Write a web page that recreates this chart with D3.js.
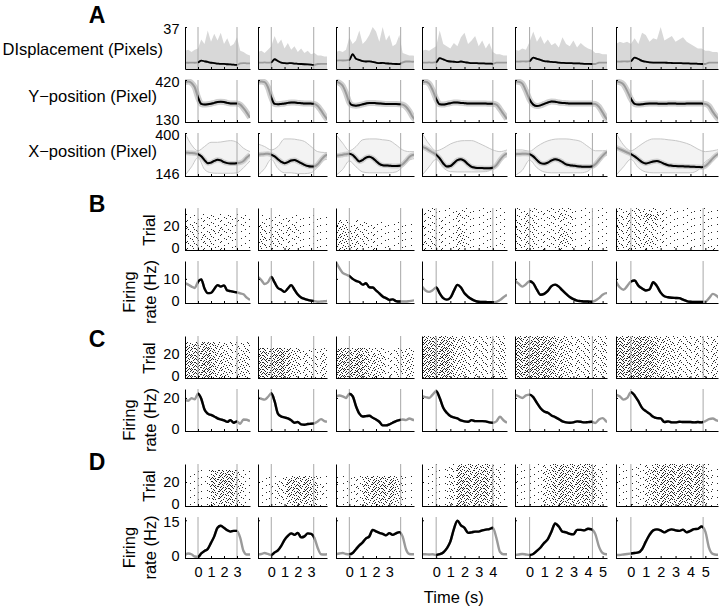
<!DOCTYPE html>
<html>
<head>
<meta charset="utf-8">
<script src="https://cdn.jsdelivr.net/npm/d3@7/dist/d3.min.js"></script>
<style>
html,body{margin:0;padding:0;background:#fff;}
svg text{font-family:"Liberation Sans",Arial,Helvetica,sans-serif;fill:#000;}
</style>
</head>
<body>
<svg id="fig" width="720" height="613"></svg>
<script>
// ================= DATA =================
const SAMPLE_STEP = 0.25;   // s between trace samples; first sample at t = -1 s
const ENV_STEP = 0.5;       // s between X-position envelope samples
const RASTER_BIN = 0.5;     // s per raster density bin
const RASTER_GROUP = 5;     // trials per raster density row

// trial durations (s) of the six columns, and their time tick labels
const durations = [3.0, 3.2, 3.85, 4.0, 4.3, 4.85];
const timeTicks = [[0,1,2,3],[0,1,2,3],[0,1,2,3],[0,1,2,3,4],[0,1,2,3,4,5],[0,1,2,3,4,5]];

// left tick labels (first column only)
const tickDisp = [37], tickY = [130, 420], tickX = [146, 400];
const tickTrial = [0, 20], tickRateB = [0, 10], tickRateC = [0, 20], tickRateD = [0, 15];

// A: displacement – upper envelope of single trials (light gray) and mean
const dispEnv = [
  [16,17,15,17,18,26,22,34,24,31,25,32,22,27,20,22,28,16,15,13,12],
  [15,16,14,17,20,29,22,26,18,23,17,20,15,18,14,16,13,14,12,12,11,11],
  [15,16,15,17,28,22,25,34,22,25,30,37,33,24,37,25,30,20,22,30,14,13,12,12,11],
  [16,17,16,18,20,34,22,20,18,23,20,28,32,22,25,29,20,25,18,23,15,13,13,12,12],
  [17,16,18,17,24,33,24,29,22,26,21,23,19,28,22,20,25,19,23,20,18,17,14,14,13,13,12],
  [22,24,23,24,22,27,22,32,30,24,27,26,37,25,27,29,24,26,28,24,22,20,18,18,16,16,15,15,14]
];
const dispMean = [
  [5.6,5.5,5.6,5.5,5.8,7.4,6.8,6.2,5.5,5.2,4.8,4.5,4.6,4.2,4.0,3.8,3.6,5.0,5.2,5.0,5.0],
  [5.7,5.6,5.8,5.6,5.8,8.6,7.0,5.6,5.2,5.0,5.2,4.8,4.6,4.4,4.2,4.0,3.8,3.6,4.4,4.6,4.6,4.5],
  [7.4,7.6,7.5,7.6,8.0,13.0,9.0,8.0,7.0,6.6,6.8,6.2,5.6,5.2,5.4,5.0,4.8,4.6,4.4,4.3,5.8,6.6,6.6,6.4,6.5],
  [5.7,5.6,5.8,5.6,6.0,9.5,8.5,7.2,6.6,6.4,6.0,6.6,6.0,5.6,5.2,5.2,5.0,5.0,4.8,4.8,4.6,5.6,5.7,5.7,5.6],
  [6.6,6.5,6.7,6.6,7.0,10.0,9.0,8.0,7.0,6.6,6.2,6.0,5.6,5.4,5.2,5.2,5.0,5.0,4.8,4.6,4.5,4.4,4.4,5.6,5.7,5.7,5.6],
  [6.6,6.5,6.7,6.6,7.0,10.0,8.8,7.2,6.4,5.8,5.7,5.7,5.6,5.6,5.4,5.3,5.2,5.2,5.0,5.0,4.8,4.8,4.6,4.4,4.4,5.6,5.7,5.7,5.6]
];
// A: Y-position mean
const yMean = [
  [405,410,400,370,300,255,250,252,256,262,268,270,268,262,258,258,258,250,225,195,160],
  [408,410,405,370,300,255,252,255,258,262,265,265,262,260,258,258,257,255,240,210,175,145],
  [408,400,380,330,265,245,243,246,252,258,262,262,260,258,256,255,255,254,254,253,250,235,205,165,140],
  [405,408,395,350,290,252,250,255,260,265,265,262,260,258,258,258,257,257,257,256,256,250,220,185,150],
  [410,408,395,345,285,250,240,245,255,265,272,270,265,262,260,258,258,258,258,258,258,257,255,235,195,155,135],
  [410,405,390,345,290,255,250,252,256,258,258,257,256,256,257,258,257,256,256,257,257,257,257,257,255,240,200,165,140]
];
// A: X-position mean and single-trial envelope (low / high)
const xMean = [
  [285,283,282,280,275,262,240,222,225,235,242,238,228,222,220,220,222,225,235,255,272],
  [272,274,276,278,272,262,245,230,222,228,238,240,232,222,212,205,202,203,215,240,262,272],
  [265,268,272,275,278,270,250,232,240,255,260,252,235,218,210,208,207,205,205,206,215,235,258,270,272],
  [320,310,298,285,272,250,220,202,205,222,240,245,235,215,200,195,193,193,192,192,195,210,240,265,280],
  [275,276,277,277,275,262,240,222,218,225,238,245,240,228,215,210,207,204,202,200,200,202,215,240,265,285,292],
  [315,305,295,285,275,262,245,228,220,225,232,234,228,218,210,207,205,204,203,202,201,200,199,198,205,225,250,270,282]
];
const xHi = [
  [400,330,295,320,345,345,350,355,345,310,290],
  [335,320,300,320,365,365,360,350,320,290,285,285],
  [390,340,295,320,360,365,365,360,355,330,300,290,290],
  [400,335,295,310,335,350,355,355,340,320,300,290,300],
  [300,300,292,320,345,360,365,365,360,350,320,295,295,300],
  [400,330,295,320,350,365,365,360,355,345,330,305,290,295,305]
];
const xLo = [
  [150,200,255,185,165,162,162,162,165,195,235],
  [150,190,245,190,165,165,160,160,165,200,240,250],
  [150,185,235,200,170,165,165,165,165,170,200,240,250],
  [150,200,245,195,172,170,170,170,170,172,190,240,260],
  [150,180,240,195,170,165,165,165,165,165,175,220,260,270],
  [150,200,245,195,170,165,165,165,165,165,165,180,230,255,265]
];
// B, C, D: mean firing rates (Hz)
const rateB = [
  [8.2,7.6,6.8,6.2,8.8,9.8,6.0,4.1,4.2,5.8,7.4,6.8,7.3,5.2,4.9,4.6,4.4,4.0,3.6,2.2,1.3],
  [10.8,9.5,7.9,8.6,10.8,8.5,6.2,5.5,4.6,6.0,7.4,5.5,3.5,2.3,1.7,1.3,1.0,0.8,0.5,0.6,0.7,0.9],
  [17.0,14.5,12.5,11.8,11.2,10.0,9.2,8.7,7.6,8.2,6.5,6.4,5.2,4.0,2.7,2.0,1.3,1.5,0.8,0.6,0.6,0.6,0.8,1.0,1.2],
  [6.8,5.2,4.6,5.3,6.4,4.0,2.0,1.4,2.2,5.0,7.5,6.4,4.0,2.6,1.6,0.9,0.5,0.4,0.4,0.3,0.3,0.5,1.2,2.4,3.4],
  [9.3,8.0,6.8,7.8,9.0,8.2,5.5,3.4,3.8,5.0,7.0,7.6,6.8,5.2,3.8,2.5,1.6,1.0,0.8,0.6,0.6,0.5,1.0,2.0,3.4,4.1,4.0],
  [8.9,6.5,5.5,7.0,8.9,9.3,7.2,6.0,5.2,5.6,8.6,7.0,4.3,2.8,2.4,2.2,2.1,2.0,1.4,0.8,0.5,0.4,0.4,0.4,0.6,2.0,3.8,3.0,1.5]
];
const rateC = [
  [18.6,18.3,19.8,19.2,22.5,19.5,13.0,10.5,9.7,8.8,7.6,7.0,6.4,5.5,6.6,5.0,5.8,4.4,7.0,6.8,6.0],
  [20.2,19.5,19.0,20.6,22.8,18.0,10.5,8.8,8.2,7.6,6.5,5.0,5.4,4.0,3.8,4.2,4.4,4.6,5.8,7.2,6.0,5.6],
  [21.0,21.5,21.0,20.0,22.5,21.0,15.0,10.5,8.8,9.0,9.2,8.0,7.0,5.6,3.4,3.4,4.0,5.0,6.0,6.6,7.0,6.6,7.6,6.8,6.4],
  [21.0,20.5,20.0,22.0,24.0,20.0,14.0,11.0,9.0,8.2,7.6,6.4,5.8,5.6,6.6,6.0,6.0,6.0,5.8,5.2,5.0,5.8,8.6,6.5,5.0],
  [22.0,21.0,20.0,21.5,22.0,20.5,17.0,13.8,11.8,11.0,9.4,8.4,7.2,5.8,5.2,5.0,5.2,5.8,5.6,5.2,5.4,5.6,4.8,7.0,7.8,5.8,5.0],
  [22.0,21.0,19.0,20.0,23.5,21.5,18.0,14.0,12.0,10.5,8.6,7.8,7.6,5.4,5.8,5.2,5.2,5.6,5.4,5.4,5.4,5.2,5.4,5.2,6.0,7.2,7.6,6.4,6.0]
];
const rateD = [
  [1.2,1.8,1.5,0.6,0.4,1.8,2.8,3.6,6.0,8.6,12.0,12.8,12.0,11.0,10.5,10.8,10.8,8.0,2.8,1.4,1.4],
  [1.5,1.6,2.0,1.6,1.2,2.2,3.0,4.8,7.2,8.8,9.8,9.2,10.0,8.2,8.6,9.8,9.6,8.0,4.0,1.5,1.4,1.5],
  [1.5,1.8,2.0,1.6,1.5,2.0,3.5,5.0,6.2,7.8,8.6,11.2,10.6,10.0,9.6,9.0,9.9,9.2,9.8,10.3,8.5,3.5,1.6,1.5,1.5],
  [1.5,1.5,1.4,1.5,1.2,1.5,2.2,3.8,6.5,11.5,14.8,13.0,12.0,10.0,10.2,10.5,10.5,11.0,11.3,11.5,12.0,8.0,2.5,1.5,1.5],
  [1.2,1.4,1.6,1.4,1.2,1.6,2.8,4.2,6.0,7.5,10.5,13.7,12.5,10.5,10.2,9.6,9.4,11.2,11.2,11.0,11.6,11.4,9.5,4.5,2.0,1.5,1.4],
  [1.2,1.2,1.4,1.6,1.8,2.0,2.2,3.5,6.5,9.2,11.0,11.4,11.0,10.2,11.0,11.4,11.0,10.8,11.3,10.2,10.8,11.5,11.6,12.5,10.5,4.0,1.6,1.3,1.3]
];
// B, C, D rasters: spike density (0-9) per 5-trial group (bottom to top) and 0.5-s bin
const rasterB = [
  ["3322221111","3333222111","3333322211","3322332211","2222222221","2122222221","0000000000"],
  ["33322111111","43332211111","33332221111","33223321111","22222211111","11111111111","00000000000"],
  ["443322111111","544332111111","544332111111","443322111111","332221111111","000000000000","000000000000"],
  ["332113211112","332124211111","222124211111","222113111111","222112111111","221113211111","221112111111"],
  ["3332223211111","3332234311111","3332234311111","3331223211111","3331222211111","2332234311111","2221223211111"],
  ["33333211111112","33344321111111","33333321111111","33333221111111","33333321111111","33347521111111","22332221111111"]
];
const rasterC = [
  ["8889654344","8899654344","8899654344","8889654344","7789543334","6678543333","0000000000"],
  ["88896433334","88896433334","88996433334","88896433334","77786432233","00000000000","00000000000"],
  ["888965432334","889965432344","889965432344","888965432344","777854322333","000000000000","000000000000"],
  ["888964333334","899964333334","899964333334","899964333334","889964333334","888864333334","777754333333"],
  ["8889865433334","8999865433334","8999865433334","8999865433334","8899865433334","8889865433334","7778754333333"],
  ["88898654333334","89998654333334","89998654333334","89998654333334","88998654333334","88898654333334","77787543333333"]
];
const rasterD = [
  ["1112455531","1112566631","1112677741","1113788741","1113788731","1112677631","0000000000"],
  ["11124555411","11235666521","11236777521","11236777521","11125666411","00000000000","00000000000"],
  ["111245555311","111256666411","112367777411","112367777411","111256666311","000000000000","000000000000"],
  ["111237666621","111248777731","111248777731","111248777731","111248777731","111237666631","111236555521"],
  ["1112356556521","1112467667631","1112467667631","1112478778731","1112467667631","1112467667631","1112356556521"],
  ["11123566666621","11124677777731","11124677777731","11124677777731","11124677777731","11124677777731","11123566666621"]
];

// ================= LAYOUT / STYLE =================
const colLeft  = [185, 258, 336, 422, 515, 616];
const colRight = [250, 327, 414, 507, 607, 718];
const rows = {
  disp: {top: 27,  bottom: 69,  domain: [0, 37],     ticks: tickDisp},
  ypos: {top: 80,  bottom: 122, domain: [130, 420],  ticks: tickY},
  xpos: {top: 133, bottom: 176, domain: [146, 400],  ticks: tickX},
  bR:   {top: 208, bottom: 250, domain: [0, 35],     ticks: tickTrial},
  bF:   {top: 261, bottom: 303, domain: [0, 17.4],   ticks: tickRateB},
  cR:   {top: 336, bottom: 378, domain: [0, 35],     ticks: tickTrial},
  cF:   {top: 389, bottom: 431, domain: [0, 25.4],   ticks: tickRateC},
  dR:   {top: 464, bottom: 506, domain: [0, 35],     ticks: tickTrial},
  dF:   {top: 517, bottom: 558, domain: [0, 16.3],   ticks: tickRateD}
};
const FS = 14.5;
// texture tile for raster density (ordered: density level k uses the first dots)
const TILE_W = 17, TILE_H = 7;
const tileDots = [[3,0],[11,2],[7,5],[14,1],[0,3],[9,6],[5,1],[16,4],[1,5],[10,0],[6,3],[15,6],[2,2],[12,5],
  [8,1],[4,4],[13,3],[0,6],[9,2],[5,5],[11,4],[2,4],[16,0],[7,2],[15,1],[1,1],[10,3],[4,6],[8,5],[12,1],
  [6,0],[3,5],[14,3],[0,0],[9,4],[11,6],[5,3],[13,2],[7,0],[2,6],[16,2],[13,6],[6,5],[10,5]];

const svg = d3.select("#fig");
const defs = svg.append("defs");
for (let lv = 1; lv <= 9; lv++) {
  const n = Math.round(lv * 4.1);
  const pt = defs.append("pattern").attr("id", "spk" + lv)
    .attr("patternUnits", "userSpaceOnUse").attr("width", TILE_W).attr("height", TILE_H);
  tileDots.slice(0, n).forEach(([px, py]) => pt.append("rect").attr("x", px).attr("y", py)
    .attr("width", 1).attr("height", 1).attr("fill", "#2a2a2a"));
}

let clipN = 0;
function makePanel(key, c) {
  const r = rows[key], D = durations[c];
  const x = d3.scaleLinear().domain([-1, D + 1]).range([colLeft[c], colRight[c]]);
  const y = d3.scaleLinear().domain(r.domain).range([r.bottom, r.top]);
  const g = svg.append("g");
  const cid = "cp" + (clipN++);
  defs.append("clipPath").attr("id", cid).append("rect")
    .attr("x", colLeft[c]).attr("y", r.top - 1)
    .attr("width", colRight[c] - colLeft[c]).attr("height", r.bottom - r.top + 1);
  const tid = "cp" + (clipN++);
  defs.append("clipPath").attr("id", tid).append("rect")
    .attr("x", x(0)).attr("y", r.top - 4)
    .attr("width", x(D) - x(0)).attr("height", r.bottom - r.top + 8);
  const inner = g.append("g").attr("clip-path", `url(#${cid})`);
  return {x, y, g, inner, D, r, c, key, tid};
}
const pts = (vals, step) => vals.map((v, i) => [-1 + i * step, v]);

function lineGen(p, curve) {
  return d3.line().x(d => p.x(d[0])).y(d => p.y(d[1])).curve(curve || d3.curveMonotoneX);
}
function drawMean(p, vals, w) {
  const dd = lineGen(p)(pts(vals, SAMPLE_STEP));
  p.inner.append("path").attr("d", dd).attr("fill", "none")
    .attr("stroke", "#9a9a9a").attr("stroke-width", w).attr("stroke-linejoin", "round");
  p.inner.append("g").attr("clip-path", `url(#${p.tid})`)
    .append("path").attr("d", dd).attr("fill", "none")
    .attr("stroke", "#000").attr("stroke-width", w).attr("stroke-linejoin", "round");
}
function drawEvents(p) {
  p.inner.selectAll(null).data([0, p.D]).join("line")
    .attr("x1", d => p.x(d)).attr("x2", d => p.x(d))
    .attr("y1", p.r.top).attr("y2", p.r.bottom)
    .attr("stroke", "#a8a8a8").attr("stroke-width", 1);
}
function drawAxes(p, showTime) {
  const bx = d3.axisBottom(p.x).tickValues(timeTicks[p.c]).tickSize(-2).tickSizeOuter(0)
    .tickPadding(9).tickFormat(showTime ? d3.format("d") : () => "");
  const ga = p.g.append("g").attr("transform", `translate(0,${p.r.bottom})`).call(bx);
  const ly = d3.axisLeft(p.y).tickValues(p.r.ticks).tickSize(-2).tickSizeOuter(0)
    .tickPadding(5.5).tickFormat(p.c === 0 ? d3.format("d") : () => "");
  const gl = p.g.append("g").attr("transform", `translate(${colLeft[p.c]},0)`).call(ly);
  gl.selectAll(".tick text").attr("dy", d => {
    const yy = p.y(d);
    if (yy - p.r.top < 5) return "0.46em";
    if (p.r.bottom - yy < 1) return "0.2em";
    return "0.32em";
  });
  [ga, gl].forEach(a => {
    a.attr("font-size", FS).attr("font-family", null);
    a.select(".domain").attr("stroke", "#000").attr("stroke-width", 1);
    a.selectAll(".tick line").attr("stroke", "#000");
    a.selectAll(".tick text").attr("fill", "#000");
  });
}

// ----- row A: displacement -----
for (let c = 0; c < 6; c++) {
  const p = makePanel("disp", c);
  const ar = d3.area().x(d => p.x(d[0])).y0(p.y(0)).y1(d => p.y(d[1]));
  p.inner.append("path").attr("d", ar(pts(dispEnv[c], SAMPLE_STEP))).attr("fill", "#d8d8d8");
  drawEvents(p);
  drawMean(p, dispMean[c], 1.8);
  drawAxes(p, false);
}
// ----- row A: Y position -----
for (let c = 0; c < 6; c++) {
  const p = makePanel("ypos", c);
  p.inner.append("path").attr("d", lineGen(p)(pts(yMean[c], SAMPLE_STEP)))
    .attr("fill", "none").attr("stroke", "#d0d0d0").attr("stroke-width", 6);
  drawEvents(p);
  drawMean(p, yMean[c], 2);
  drawAxes(p, false);
}
// ----- row A: X position -----
for (let c = 0; c < 6; c++) {
  const p = makePanel("xpos", c);
  const env = xLo[c].map((v, i) => [-1 + i * ENV_STEP, v, xHi[c][i]]);
  const ar = d3.area().x(d => p.x(d[0])).y0(d => p.y(d[1])).y1(d => p.y(d[2])).curve(d3.curveMonotoneX);
  p.inner.append("path").attr("d", ar(env)).attr("fill", "#f3f3f3");
  [xLo[c], xHi[c]].forEach(arr => p.inner.append("path")
    .attr("d", lineGen(p)(pts(arr, ENV_STEP))).attr("fill", "none")
    .attr("stroke", "#c8c8c8").attr("stroke-width", 1));
  p.inner.append("path").attr("d", lineGen(p)(pts(xMean[c], SAMPLE_STEP)))
    .attr("fill", "none").attr("stroke", "#d0d0d0").attr("stroke-width", 5);
  drawEvents(p);
  drawMean(p, xMean[c], 2);
  drawAxes(p, false);
}
// ----- rasters and firing rates -----
function drawRaster(p, grid) {
  const cells = [];
  grid.forEach((rowStr, gi) => rowStr.split("").forEach((ch, j) => {
    const d = +ch;
    if (d > 0) cells.push({gi, j, d});
  }));
  p.inner.selectAll(null).data(cells).join("rect")
    .attr("x", d => p.x(-1 + d.j * RASTER_BIN))
    .attr("width", d => p.x(Math.min(-1 + (d.j + 1) * RASTER_BIN, p.D + 1)) - p.x(-1 + d.j * RASTER_BIN))
    .attr("y", d => p.y((d.gi + 1) * RASTER_GROUP))
    .attr("height", d => p.y(d.gi * RASTER_GROUP) - p.y((d.gi + 1) * RASTER_GROUP))
    .attr("fill", d => `url(#spk${d.d})`)
    .attr("shape-rendering", "crispEdges");
}
const groups = [["bR", "bF", rasterB, rateB], ["cR", "cF", rasterC, rateC], ["dR", "dF", rasterD, rateD]];
groups.forEach(([rk, fk, rast, rate], gi) => {
  for (let c = 0; c < 6; c++) {
    const pr = makePanel(rk, c);
    drawRaster(pr, rast[c]);
    drawEvents(pr);
    drawAxes(pr, false);
    const pf = makePanel(fk, c);
    drawEvents(pf);
    drawMean(pf, rate[c], 2.4);
    drawAxes(pf, gi === 2);
  }
});

// ================= TEXT =================
const T = svg.append("g");
[["A", 22.7], ["B", 211.7], ["C", 346.5], ["D", 469.5]].forEach(([s, yb]) =>
  T.append("text").attr("x", 97).attr("y", yb).attr("text-anchor", "middle")
    .attr("font-size", 23).attr("font-weight", "bold").text(s));
[["DIsplacement (Pixels)", 163, 55], ["Y\u2212position (Pixel)", 157, 102], ["X\u2212position (Pixel)", 157, 157]]
  .forEach(([s, xr, yb]) => T.append("text").attr("x", xr).attr("y", yb)
    .attr("text-anchor", "end").attr("font-size", 16.5).text(s));
function vtext(s, xb, yc) {
  T.append("text").attr("transform", `translate(${xb},${yc}) rotate(-90)`)
    .attr("text-anchor", "middle").attr("font-size", 16.5).text(s);
}
[["bR", "bF"], ["cR", "cF"], ["dR", "dF"]].forEach(([rk, fk]) => {
  const r = rows[rk], f = rows[fk];
  vtext("Trial", 155, (r.top + r.bottom) / 2 + 1);
  const yc = (f.top + f.bottom) / 2 + 10;
  vtext("Firing", 135, yc);
  vtext("rate (Hz)", 156, yc);
});
T.append("text").attr("x", 453.7).attr("y", 603).attr("text-anchor", "middle")
  .attr("font-size", 16.5).text("Time (s)");
</script>
</body>
</html>
